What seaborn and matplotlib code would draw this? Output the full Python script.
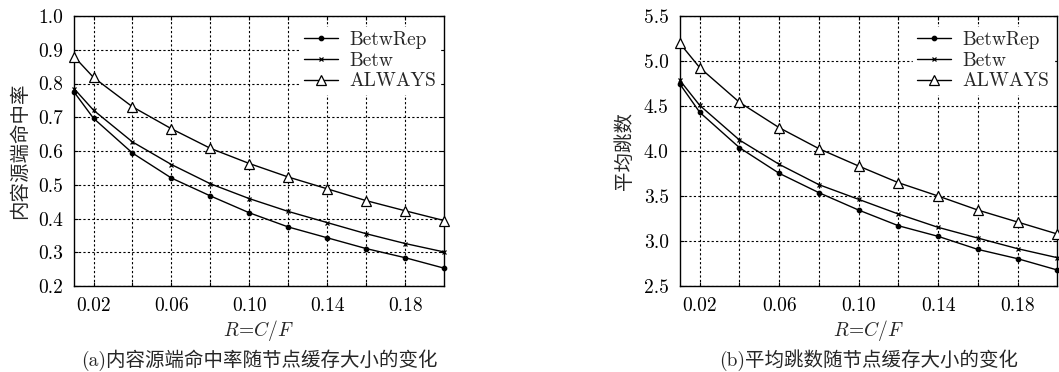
import matplotlib
matplotlib.use("Agg")
import matplotlib.pyplot as plt
import seaborn as sns
import pandas as pd

# --- data ---
R = [0.01, 0.02, 0.04, 0.06, 0.08, 0.10, 0.12, 0.14, 0.16, 0.18, 0.20]

hit_betwrep = [0.775, 0.697, 0.594, 0.520, 0.467, 0.417, 0.375, 0.343, 0.311, 0.284, 0.253]
hit_betw = [0.785, 0.721, 0.627, 0.560, 0.503, 0.459, 0.421, 0.388, 0.355, 0.326, 0.301]
hit_always = [0.880, 0.818, 0.731, 0.666, 0.608, 0.563, 0.523, 0.488, 0.453, 0.423, 0.394]

hop_betwrep = [4.744, 4.430, 4.037, 3.752, 3.537, 3.344, 3.170, 3.052, 2.907, 2.804, 2.678]
hop_betw = [4.785, 4.507, 4.122, 3.852, 3.626, 3.463, 3.300, 3.152, 3.033, 2.915, 2.815]
hop_always = [5.196, 4.926, 4.541, 4.259, 4.026, 3.833, 3.648, 3.500, 3.344, 3.211, 3.078]

SERIES = ["BetwRep", "Betw", "ALWAYS"]
MARKERS = {"BetwRep": "o", "Betw": "x", "ALWAYS": "^"}
MSIZE = {"BetwRep": 3.2, "Betw": 3.5, "ALWAYS": 7.5}

x_ticks = [0.02, 0.06, 0.10, 0.14, 0.18]
x_grid = [0.02, 0.04, 0.06, 0.08, 0.10, 0.12, 0.14, 0.16, 0.18]

sns.set_theme(style="white")
plt.rcParams['font.family'] = ['cmr10', 'Noto Sans CJK SC', 'DejaVu Sans']
plt.rcParams['axes.formatter.use_mathtext'] = True
plt.rcParams['mathtext.fontset'] = 'cm'


def long_frame(a, b, c):
    rows = []
    for name, vals in zip(SERIES, (a, b, c)):
        for xv, yv in zip(R, vals):
            rows.append({"R": xv, "value": yv, "series": name})
    return pd.DataFrame(rows)


fig = plt.figure(figsize=(10.59, 3.72), dpi=100)
ax1 = fig.add_axes([0.0699, 0.231, 0.3495, 0.726])
ax2 = fig.add_axes([0.642, 0.231, 0.3565, 0.726])

panels = [
    (ax1, long_frame(hit_betwrep, hit_betw, hit_always), (0.2, 1.0),
     [0.2, 0.3, 0.4, 0.5, 0.6, 0.7, 0.8, 0.9, 1.0], "内容源端命中率",
     "(a)内容源端命中率随节点缓存大小的变化"),
    (ax2, long_frame(hop_betwrep, hop_betw, hop_always), (2.5, 5.5),
     [2.5, 3.0, 3.5, 4.0, 4.5, 5.0, 5.5], "平均跳数",
     "(b)平均跳数随节点缓存大小的变化"),
]

for ax, df, ylim, yticks, ylabel, caption in panels:
    for name in SERIES:
        sub = df[df["series"] == name]
        sns.lineplot(data=sub, x="R", y="value", ax=ax, color="black", lw=1.0,
                     marker=MARKERS[name], markersize=MSIZE[name],
                     markerfacecolor="white" if name == "ALWAYS" else "black",
                     markeredgecolor="black", markeredgewidth=0.9,
                     label=name, clip_on=False, zorder=3)
    ax.set_xlim(0.01, 0.20)
    ax.set_ylim(*ylim)
    ax.set_yticks(yticks)
    ax.set_yticklabels([f"{v:.1f}" for v in yticks])
    ax.set_xticks(x_grid)
    ax.set_xticklabels([f"{v:.2f}" if v in x_ticks else "" for v in x_grid])
    ax.grid(True, color="black", linestyle=(0, (2, 2)), linewidth=0.8)
    ax.tick_params(direction="in", length=3, width=0.8, labelsize=14,
                   bottom=True, left=True, top=True, right=True, pad=8,
                   colors="black")
    for sp in ax.spines.values():
        sp.set_color("black")
        sp.set_linewidth(1.0)
    ax.set_xlabel("$R\\!=\\!C/F$", fontsize=14)
    ax.xaxis.set_label_coords(0.5, -0.166)
    ax.xaxis.label.set_va("center")
    ax.set_ylabel(ylabel, fontsize=14)
    ax.yaxis.set_label_coords(-0.147, 0.5)
    ax.yaxis.label.set_va("center")
    leg = ax.legend(loc="upper right", bbox_to_anchor=(0.99, 0.96),
                    frameon=True, fontsize=14, handlelength=1.75,
                    handletextpad=0.6, borderaxespad=0, borderpad=0.2,
                    labelspacing=0.15)
    leg.get_frame().set_edgecolor("white")
    leg.get_frame().set_facecolor("white")
    leg.get_frame().set_alpha(1.0)
    ax.text(0.5, -0.276, caption, transform=ax.transAxes, ha="center",
            va="center", fontsize=14)

fig.savefig("out.png", dpi=100)
